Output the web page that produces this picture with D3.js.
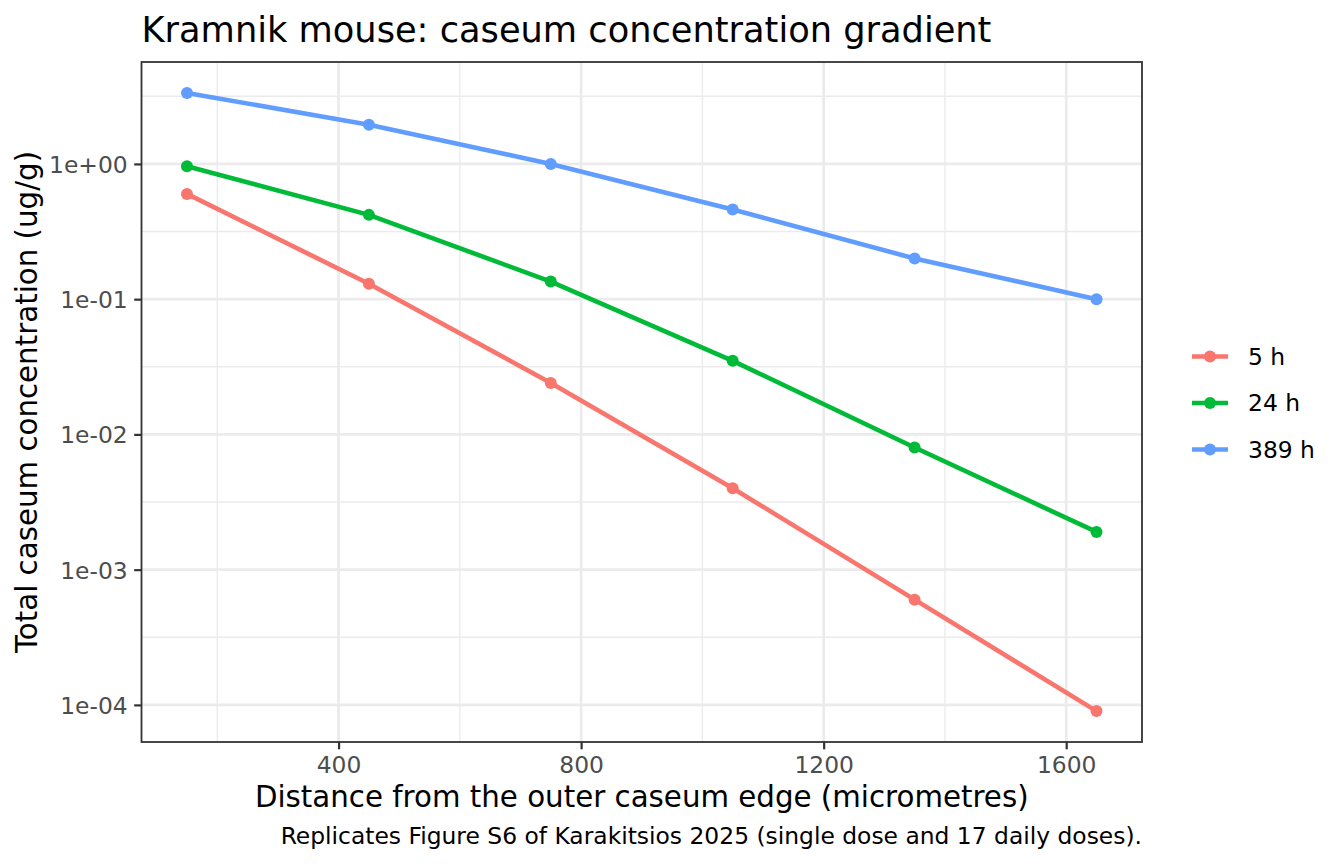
<!DOCTYPE html>
<html>
<head>
<meta charset="utf-8">
<script src="https://cdn.jsdelivr.net/npm/d3@7"></script>
<style>
  body { margin: 0; background: #fff; }
  text { font-family: "DejaVu Sans", sans-serif; }
  .grid-major { stroke: #ebebeb; stroke-width: 2.7; }
  .grid-minor { stroke: #ebebeb; stroke-width: 1.35; }
</style>
</head>
<body>
<svg id="chart"></svg>
<script>
const chartWidth = 1344;
const chartHeight = 864;
const panel = {left: 141.5, right: 1142, top: 62, bottom: 742};

const BASE_SIZE = 29.3;
const SMALL_SIZE = 23.4;
const TITLE_SIZE = 35.2;
const LINE_WIDTH = 4.6;
const POINT_R = 6;

// data
const distances = [150, 450, 750, 1050, 1350, 1650];
const seriesNames = ["5 h", "24 h", "389 h"];
const seriesColors = ["#F8766D", "#00BA38", "#619CFF"];
const conc5h = [0.60, 0.13, 0.024, 0.004, 0.0006, 0.00009];
const conc24h = [0.96, 0.42, 0.135, 0.035, 0.008, 0.0019];
const conc389h = [3.35, 1.95, 1.0, 0.46, 0.2, 0.1];

const xTicks = [400, 800, 1200, 1600];
const xMinorTicks = [200, 600, 1000, 1400];
const yTicks = [1, 0.1, 0.01, 0.001, 0.0001];
const yTickLabels = ["1e+00", "1e-01", "1e-02", "1e-03", "1e-04"];

const TITLE = "Kramnik mouse: caseum concentration gradient";
const X_LABEL = "Distance from the outer caseum edge (micrometres)";
const Y_LABEL = "Total caseum concentration (ug/g)";
const CAPTION = "Replicates Figure S6 of Karakitsios 2025 (single dose and 17 daily doses).";

const series = [conc5h, conc24h, conc389h].map((vals, i) => ({
    name: seriesNames[i],
    color: seriesColors[i],
    points: vals.map((v, j) => ({x: distances[j], y: v}))
}));

// ggplot style 5% expansion
const xExt = d3.extent(distances);
const xPad = (xExt[1] - xExt[0]) * 0.05;
let xScale = d3.scaleLinear()
    .domain([xExt[0] - xPad, xExt[1] + xPad])
    .range([panel.left, panel.right]);

const allY = [].concat(conc5h, conc24h, conc389h).map(Math.log10);
const lyMin = d3.min(allY), lyMax = d3.max(allY);
const lyPad = (lyMax - lyMin) * 0.05;
let yScale = d3.scaleLog()
    .domain([Math.pow(10, lyMin - lyPad), Math.pow(10, lyMax + lyPad)])
    .range([panel.bottom, panel.top]);

// minor breaks sit at the log midpoints
const yMinorTicks = [];
for (let e = -5; e <= 1; e++) yMinorTicks.push(Math.pow(10, e + 0.5));

const svg = d3.select("#chart")
    .attr("width", chartWidth)
    .attr("height", chartHeight);

svg.append("rect").attr("width", chartWidth).attr("height", chartHeight).attr("fill", "#fff");

svg.append("clipPath").attr("id", "panel-clip")
    .append("rect")
    .attr("x", panel.left).attr("y", panel.top)
    .attr("width", panel.right - panel.left).attr("height", panel.bottom - panel.top);

const gridG = svg.append("g").attr("clip-path", "url(#panel-clip)");

gridG.selectAll(".ymin").data(yMinorTicks).join("line")
    .attr("class", "grid-minor")
    .attr("x1", panel.left).attr("x2", panel.right)
    .attr("y1", d => yScale(d)).attr("y2", d => yScale(d));
gridG.selectAll(".xmin").data(xMinorTicks).join("line")
    .attr("class", "grid-minor")
    .attr("y1", panel.top).attr("y2", panel.bottom)
    .attr("x1", d => xScale(d)).attr("x2", d => xScale(d));
gridG.selectAll(".ymaj").data(yTicks).join("line")
    .attr("class", "grid-major")
    .attr("x1", panel.left).attr("x2", panel.right)
    .attr("y1", d => yScale(d)).attr("y2", d => yScale(d));
gridG.selectAll(".xmaj").data(xTicks).join("line")
    .attr("class", "grid-major")
    .attr("y1", panel.top).attr("y2", panel.bottom)
    .attr("x1", d => xScale(d)).attr("x2", d => xScale(d));

const dataG = svg.append("g").attr("clip-path", "url(#panel-clip)");
const line = d3.line().x(d => xScale(d.x)).y(d => yScale(d.y));

for (let s of series) {
    dataG.append("path")
        .datum(s.points)
        .attr("fill", "none")
        .attr("stroke", s.color)
        .attr("stroke-width", LINE_WIDTH)
        .attr("d", line);
    dataG.selectAll(null).data(s.points).join("circle")
        .attr("cx", d => xScale(d.x))
        .attr("cy", d => yScale(d.y))
        .attr("r", POINT_R)
        .attr("fill", s.color);
}

// panel border
svg.append("rect")
    .attr("x", panel.left).attr("y", panel.top)
    .attr("width", panel.right - panel.left).attr("height", panel.bottom - panel.top)
    .attr("fill", "none").attr("stroke", "#333333").attr("stroke-width", 1.8);

// axes
const xAxis = svg.append("g")
    .attr("transform", `translate(0,${panel.bottom})`)
    .call(d3.axisBottom(xScale).tickValues(xTicks).tickSize(7.3).tickPadding(4).tickFormat(d3.format("d")));
const yAxis = svg.append("g")
    .attr("transform", `translate(${panel.left},0)`)
    .call(d3.axisLeft(yScale).tickValues(yTicks).tickSize(7.3).tickPadding(6.5)
        .tickFormat((d, i) => yTickLabels[i]));

for (let ax of [xAxis, yAxis]) {
    ax.select(".domain").remove();
    ax.selectAll(".tick line").attr("stroke", "#333333").attr("stroke-width", 2.2);
    ax.selectAll(".tick text").attr("fill", "#4d4d4d")
        .style("font-size", SMALL_SIZE + "px").style("font-family", "DejaVu Sans");
}
xAxis.selectAll(".tick text").attr("y", 0).attr("dy", 0)
    .attr("transform", "translate(0,30.5)");
yAxis.selectAll(".tick text").attr("dy", "0.36em");

// labels
svg.append("text")
    .attr("x", panel.left).attr("y", 42)
    .style("font-size", TITLE_SIZE + "px")
    .attr("fill", "#000")
    .text(TITLE);

svg.append("text")
    .attr("x", (panel.left + panel.right) / 2).attr("y", 806.5)
    .attr("text-anchor", "middle")
    .style("font-size", BASE_SIZE + "px")
    .text(X_LABEL);

svg.append("text")
    .attr("transform", `translate(36.5, ${(panel.top + panel.bottom) / 2}) rotate(-90)`)
    .attr("text-anchor", "middle")
    .style("font-size", BASE_SIZE + "px")
    .text(Y_LABEL);

svg.append("text")
    .attr("x", panel.right).attr("y", 844)
    .attr("text-anchor", "end")
    .style("font-size", SMALL_SIZE + "px")
    .text(CAPTION);

// legend
const legendG = svg.append("g");
const legendTop = 356.5, legendStep = 46.5;
series.forEach((s, i) => {
    const y = legendTop + i * legendStep;
    legendG.append("line")
        .attr("x1", 1192).attr("x2", 1228)
        .attr("y1", y).attr("y2", y)
        .attr("stroke", s.color).attr("stroke-width", LINE_WIDTH);
    legendG.append("circle")
        .attr("cx", 1210).attr("cy", y).attr("r", POINT_R).attr("fill", s.color);
    legendG.append("text")
        .attr("x", 1248).attr("y", y).attr("dy", "0.36em")
        .style("font-size", SMALL_SIZE + "px")
        .text(s.name);
});
</script>
</body>
</html>
